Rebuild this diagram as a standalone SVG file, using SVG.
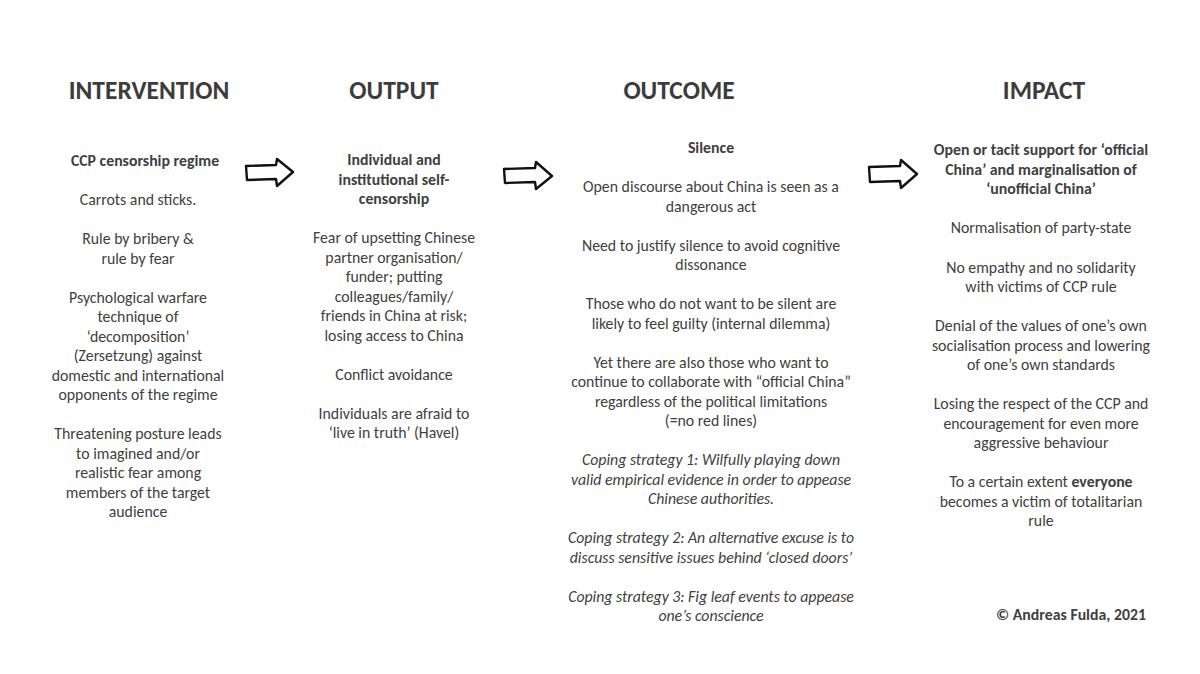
<svg xmlns="http://www.w3.org/2000/svg" width="1200" height="674" viewBox="0 0 1200 674">
<style>
text{font-family:Carlito,Lato,"Liberation Sans",sans-serif;fill:#404040;text-anchor:middle;font-size:15.8px}
.h{font-size:25.5px;font-weight:bold;fill:#3c3c3c}
.b{font-weight:bold}
.i{font-style:italic}
.arrow{fill:#fff;stroke:#111;stroke-width:2.4;stroke-linejoin:round}
</style>
<rect width="1200" height="674" fill="#fff"/>
<g id="intervention">
<text class="h" x="149" y="99">INTERVENTION</text>
<text class="b" x="145" y="166">CCP censorship regime</text>
<text x="138" y="205">Carrots and sticks.</text>
<text x="138"><tspan x="138" y="244">Rule by bribery &amp;</tspan><tspan x="138" y="264">rule by fear</tspan></text>
<text x="138"><tspan x="138" y="303">Psychological warfare</tspan><tspan x="138" y="322">technique of</tspan><tspan x="138" y="342">‘decomposition’</tspan><tspan x="138" y="361">(Zersetzung) against</tspan><tspan x="138" y="381">domestic and international</tspan><tspan x="138" y="400">opponents of the regime</tspan></text>
<text x="138"><tspan x="138" y="439">Threatening posture leads</tspan><tspan x="138" y="459">to imagined and/or</tspan><tspan x="138" y="478">realistic fear among</tspan><tspan x="138" y="498">members of the target</tspan><tspan x="138" y="517">audience</tspan></text>
</g>
<g id="output">
<text class="h" x="394" y="99">OUTPUT</text>
<text class="b"><tspan x="394" y="165">Individual and</tspan><tspan x="394" y="185">institutional self-</tspan><tspan x="394" y="204">censorship</tspan></text>
<text><tspan x="394" y="243">Fear of upsetting Chinese</tspan><tspan x="394" y="263">partner organisation/</tspan><tspan x="394" y="282">funder; putting</tspan><tspan x="394" y="302">colleagues/family/</tspan><tspan x="394" y="321">friends in China at risk;</tspan><tspan x="394" y="341">losing access to China</tspan></text>
<text x="394" y="380">Conflict avoidance</text>
<text><tspan x="394" y="419">Individuals are afraid to</tspan><tspan x="394" y="438">‘live in truth’ (Havel)</tspan></text>
</g>
<g id="outcome">
<text class="h" x="679" y="99">OUTCOME</text>
<text class="b" x="711" y="153">Silence</text>
<text><tspan x="711" y="192">Open discourse about China is seen as a</tspan><tspan x="711" y="212">dangerous act</tspan></text>
<text><tspan x="711" y="251">Need to justify silence to avoid cognitive</tspan><tspan x="711" y="270">dissonance</tspan></text>
<text><tspan x="711" y="309">Those who do not want to be silent are</tspan><tspan x="711" y="329">likely to feel guilty (internal dilemma)</tspan></text>
<text><tspan x="711" y="368">Yet there are also those who want to</tspan><tspan x="711" y="387">continue to collaborate with “official China”</tspan><tspan x="711" y="407">regardless of the political limitations</tspan><tspan x="711" y="426">(=no red lines)</tspan></text>
<text class="i"><tspan x="711" y="465">Coping strategy 1: Wilfully playing down</tspan><tspan x="711" y="485">valid empirical evidence in order to appease</tspan><tspan x="711" y="504">Chinese authorities.</tspan></text>
<text class="i"><tspan x="711" y="543">Coping strategy 2: An alternative excuse is to</tspan><tspan x="711" y="563">discuss sensitive issues behind ‘closed doors’</tspan></text>
<text class="i"><tspan x="711" y="602">Coping strategy 3: Fig leaf events to appease</tspan><tspan x="711" y="621">one’s conscience</tspan></text>
</g>
<g id="impact">
<text class="h" x="1044" y="99">IMPACT</text>
<text class="b"><tspan x="1041" y="155">Open or tacit support for ‘official</tspan><tspan x="1041" y="175">China’ and marginalisation of</tspan><tspan x="1041" y="194">‘unofficial China’</tspan></text>
<text x="1041" y="233">Normalisation of party-state</text>
<text><tspan x="1041" y="273">No empathy and no solidarity</tspan><tspan x="1041" y="292">with victims of CCP rule</tspan></text>
<text><tspan x="1041" y="331">Denial of the values of one’s own</tspan><tspan x="1041" y="351">socialisation process and lowering</tspan><tspan x="1041" y="370">of one’s own standards</tspan></text>
<text><tspan x="1041" y="409">Losing the respect of the CCP and</tspan><tspan x="1041" y="429">encouragement for even more</tspan><tspan x="1041" y="448">aggressive behaviour</tspan></text>
<text><tspan x="1041" y="487">To a certain extent <tspan class="b">everyone</tspan></tspan><tspan x="1041" y="507">becomes a victim of totalitarian</tspan><tspan x="1041" y="526">rule</tspan></text>
</g>
<g id="copyright">
<text class="b" x="1071" y="620">© Andreas Fulda, 2021</text>
</g>
<g id="connectors">
<path class="arrow" d="M246,166 L276,165 L277,159 L293,172 L277,186 L276,179 L247,180 Z"/>
<path class="arrow" d="M504,169 L535,168 L536,162 L552,176 L536,189 L535,182 L505,183 Z"/>
<path class="arrow" d="M869,167 L900,166 L901,160 L917,174 L901,188 L900,181 L870,182 Z"/>
</g>
</svg>
